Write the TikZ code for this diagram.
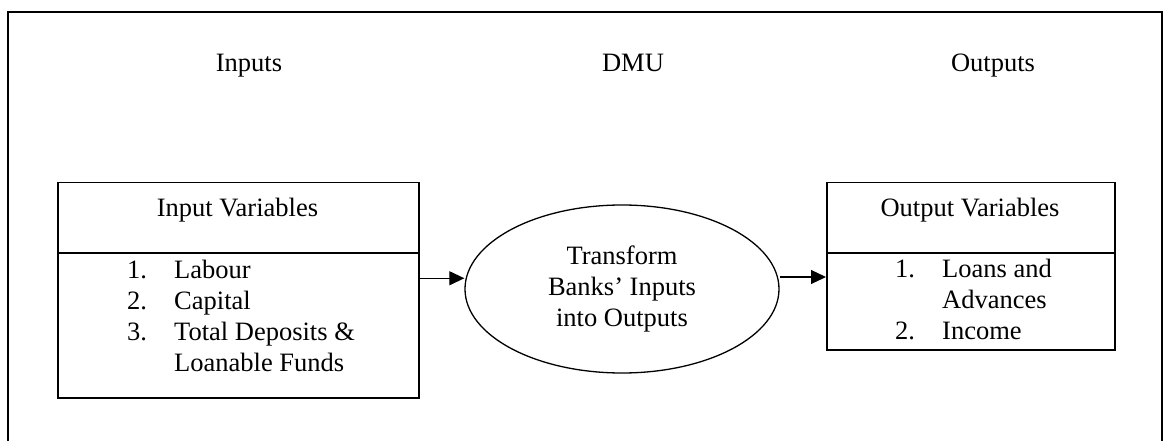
\documentclass[tikz,border=0pt]{standalone}
\usepackage{fontspec}
\setmainfont{Liberation Serif}
\usetikzlibrary{shapes.geometric,arrows.meta}
\begin{document}
\begin{tikzpicture}[x=1pt,y=-1pt,
  txt/.style={inner sep=0pt,anchor=base,font=\fontsize{26.5}{31}\selectfont},
  txtw/.style={inner sep=0pt,anchor=base west,font=\fontsize{26.5}{31}\selectfont},
  varbox/.style={draw,line width=1.5pt,rectangle,anchor=north west,inner sep=0pt},
  arr/.style={line width=1.2pt,-{Triangle[length=15pt,width=14pt]}}]
\useasboundingbox (0,0) rectangle (1163,441);
% outer frame
\draw[line width=1.6pt] (8,441) -- (8,12) -- (1162,12) -- (1162,441);
% headers
\node[txt] (hin) at (249,72) {Inputs};
\node[txt] (hdmu) at (633,72) {DMU};
\node[txt] (hout) at (993,72) {Outputs};
% input box
\node[varbox,minimum width=361pt,minimum height=215pt] (inbox) at (57,182) {};
\draw[line width=1.5pt] (inbox.west |- 0,253) -- (inbox.east |- 0,253);
\node[txt] (intitle) at (237.5,217) {Input Variables};
\node[txtw] (in1n) at (127,278) {1.};
\node[txtw] (in1) at (174,278) {Labour};
\node[txtw] (in2n) at (127,309) {2.};
\node[txtw] (in2) at (174,309) {Capital};
\node[txtw] (in3n) at (127,340) {3.};
\node[txtw] (in3) at (174,340) {Total Deposits \&};
\node[txtw] (in3b) at (174,371) {Loanable Funds};
% DMU ellipse
\node[draw,line width=1.3pt,ellipse,minimum width=314pt,minimum height=168pt,inner sep=0pt,
  align=center,font=\fontsize{26.5}{31}\selectfont] (dmu) at (622,289)
  {Transform\\Banks’ Inputs\\into Outputs};
% output box
\node[varbox,minimum width=288pt,minimum height=167pt] (outbox) at (826,182) {};
\draw[line width=1.5pt] (outbox.west |- 0,253) -- (outbox.east |- 0,253);
\node[txt] (outtitle) at (970,217) {Output Variables};
\node[txtw] (out1n) at (895,277) {1.};
\node[txtw] (out1) at (942,277) {Loans and};
\node[txtw] (out1b) at (942,308) {Advances};
\node[txtw] (out2n) at (895,339) {2.};
\node[txtw] (out2) at (942,339) {Income};
% connectors
\draw[arr] ([yshift=12pt]inbox.east) -- ([yshift=12pt]inbox.east -| dmu.west);
\draw[arr] ([yshift=12pt]dmu.east) -- ([yshift=12pt]dmu.east -| outbox.west);
\end{tikzpicture}
\end{document}
